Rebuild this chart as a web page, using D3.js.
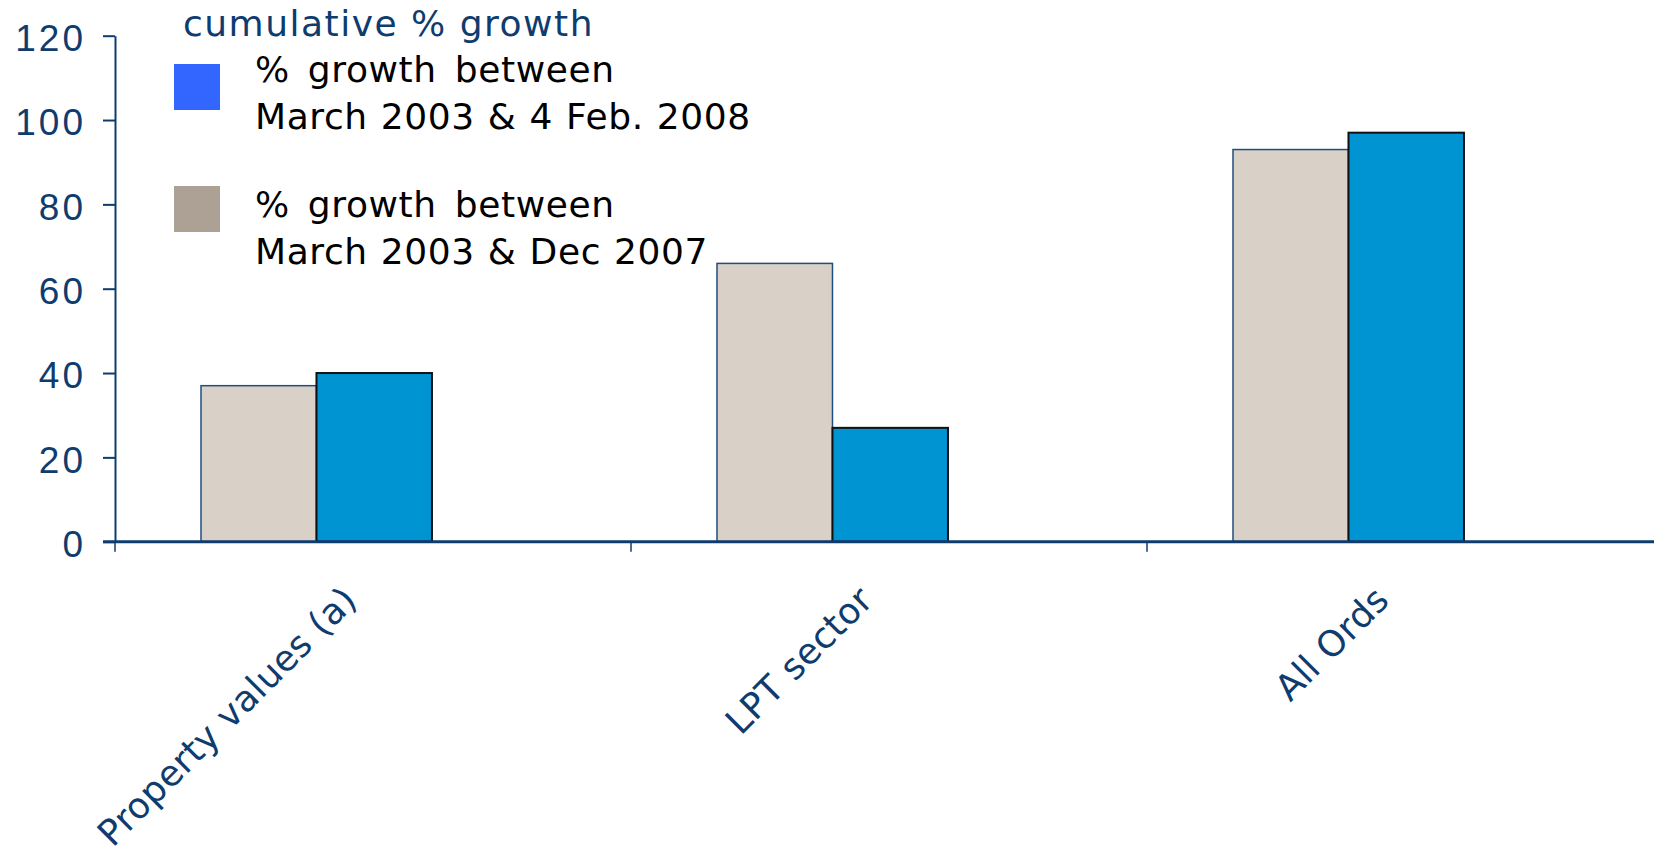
<!DOCTYPE html>
<html>
<head>
<meta charset="utf-8">
<script src="https://cdn.jsdelivr.net/npm/d3@7"></script>
<style>
  body { margin: 0; background: #fff; }
  svg { display: block; font-family: "DejaVu Sans", Verdana, sans-serif; }
  .axis text { fill: #0f3c6e; }
  .axis line, .axis path { stroke: #0f3c6e; }
</style>
</head>
<body>
<div id="viz"></div>
<script>
const categories = ["Property values (a)", "LPT sector", "All Ords"];
const seriesKeys = ["dec2007", "feb2008"];
const growthToDec2007 = [37, 66, 93];
const growthToFeb2008 = [40, 27, 97];
const yTicks = [0, 20, 40, 60, 80, 100, 120];

const chartTitle = "cumulative % growth";
const legendItems = [
    { key: "feb2008", lines: ["% growth between", "March 2003 & 4 Feb. 2008"] },
    { key: "dec2007", lines: ["% growth between", "March 2003 & Dec 2007"] }
];

const barFill = { dec2007: "#d9d1c8", feb2008: "#0094d3" };
const barStroke = { dec2007: "#1f4d7d", feb2008: "#111111" };
const legendFill = { dec2007: "#ada196", feb2008: "#3366ff" };

const width = 1654;
const height = 859;
const margin = { left: 115, top: 35.7, bottom: 541.7 };

const svg = d3.select("#viz").append("svg")
    .attr("width", width)
    .attr("height", height);

const yScale = d3.scaleLinear()
    .domain([0, 120])
    .range([margin.bottom, margin.top]);

// three categories, axis runs on past the right edge like the original
const xScale = d3.scaleBand()
    .domain(categories)
    .range([margin.left, margin.left + 3 * 516])
    .padding(0);

const bw = xScale.bandwidth();
const subScale = d3.scaleBand()
    .domain(seriesKeys)
    .range([bw / 6, bw / 6 + 2 * 0.2238 * bw]);

const rows = categories.map((c, i) => ({
    name: c,
    values: [
        { key: "dec2007", value: growthToDec2007[i] },
        { key: "feb2008", value: growthToFeb2008[i] }
    ]
}));

// bars
const gCat = svg.selectAll(".cat")
    .data(rows)
    .join("g")
        .attr("class", "cat")
        .attr("transform", d => `translate(${xScale(d.name)},0)`);

gCat.selectAll("rect")
    .data(d => d.values)
    .join("rect")
        .attr("x", d => subScale(d.key))
        .attr("y", d => yScale(d.value))
        .attr("width", subScale.bandwidth())
        .attr("height", d => yScale(0) - yScale(d.value))
        .attr("fill", d => barFill[d.key])
        .attr("stroke", d => barStroke[d.key])
        .attr("stroke-width", d => d.key === "feb2008" ? 2 : 1.5);

// y axis
const yAxis = svg.append("g")
    .attr("class", "axis axis--y")
    .attr("transform", `translate(${margin.left},0)`)
    .call(d3.axisLeft(yScale).tickValues(yTicks).tickSize(12).tickSizeOuter(0).tickPadding(17));

yAxis.select(".domain").attr("stroke-width", 2);
yAxis.selectAll(".tick line").attr("stroke-width", 2);
yAxis.selectAll(".tick text")
    .attr("dy", "0.40em")
    .style("font-size", "37px")
    .style("letter-spacing", "3px");

// x axis
const xAxis = svg.append("g").attr("class", "axis axis--x");

xAxis.append("line")
    .attr("x1", margin.left - 12)
    .attr("x2", xScale.range()[1])
    .attr("y1", yScale(0))
    .attr("y2", yScale(0))
    .attr("stroke-width", 3);

xAxis.selectAll(".xtick")
    .data(categories)
    .join("line")
        .attr("class", "xtick")
        .attr("x1", d => xScale(d))
        .attr("x2", d => xScale(d))
        .attr("y1", yScale(0))
        .attr("y2", yScale(0) + 10)
        .attr("stroke-width", 1.5);

xAxis.selectAll(".xlabel")
    .data(categories)
    .join("text")
        .attr("class", "xlabel")
        .attr("text-anchor", "end")
        .style("font-size", "36px")
        .style("letter-spacing", "0.3px")
        .attr("transform", d => `translate(${xScale(d) + bw / 2 - 14},602) rotate(-45)`)
        .text(d => d);

// title + legend
svg.append("text")
    .attr("x", 183)
    .attr("y", 36)
    .attr("fill", "#0f3c6e")
    .style("font-size", "36px")
    .style("letter-spacing", "1.5px")
    .text(chartTitle);

const swatchTop = [64, 186];
const textTop = [82, 217];

const legend = svg.selectAll(".legend-item")
    .data(legendItems)
    .join("g")
        .attr("class", "legend-item");

legend.append("rect")
    .attr("x", 174)
    .attr("y", (d, i) => swatchTop[i])
    .attr("width", 46)
    .attr("height", 46)
    .attr("fill", d => legendFill[d.key]);

legend.each(function(d, i) {
    d3.select(this).selectAll("text")
        .data(d.lines)
        .join("text")
            .attr("x", 255)
            .attr("y", (t, j) => textTop[i] + j * 46.5)
            .attr("fill", "#000")
            .style("font-size", "36px")
            .style("letter-spacing", "0.6px")
            .style("word-spacing", (t, j) => j === 0 ? "6px" : "1px")
            .text(t => t);
});
</script>
</body>
</html>
